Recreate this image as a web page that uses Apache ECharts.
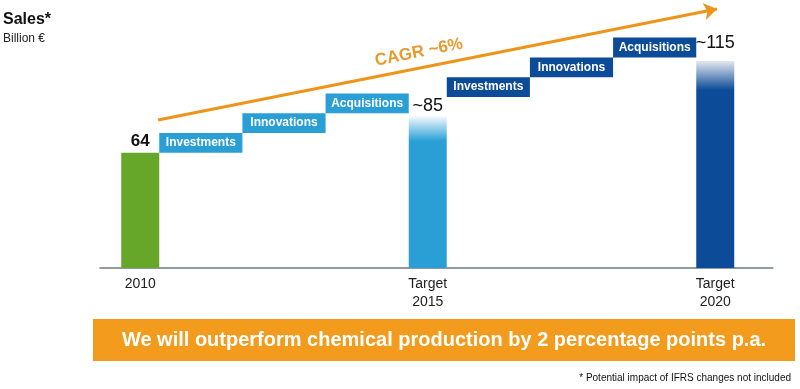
<!DOCTYPE html>
<html>
<head>
<meta charset="utf-8">
<script src="https://cdn.jsdelivr.net/npm/echarts@6/dist/echarts.min.js"></script>
<style>
html,body{margin:0;padding:0;background:#fff;}
#chart{width:800px;height:389px;}
</style>
</head>
<body>
<div id="chart"></div>
<script>
// ---- data ----
const categories = ['2010', 'Target\n2015', 'Target\n2020'];
const years = [2010, 2015, 2020];
const sales = [64, 85, 115];
const salesLabels = ['64', '~85', '~115'];
const stepLabels = ['Investments', 'Innovations', 'Acquisitions'];
const steps2015Base = [64, 75, 86];
const steps2020Base = [95, 106, 117];
const stepHeight = 11;
const cagrStart = [2010.31, 82.2];
const cagrEnd = [2020.03, 143.9];
const cagrText = 'CAGR ~6%';
const bannerText = 'We will outperform chemical production by 2 percentage points p.a.';
const footnote = '* Potential impact of IFRS changes not included';

// ---- style ----
const FONT = '"Liberation Sans", Arial, sans-serif';
const GREEN = '#66A629';
const LBLUE = '#2A9FD6';
const DBLUE = '#0C4B97';
const ORANGE = '#EE9419';
const BAR_W = 38;

const barColors = [
  GREEN,
  {type:'linear', x:0, y:0, x2:0, y2:1, colorStops:[{offset:0,color:'#ffffff'},{offset:0.17,color:LBLUE},{offset:1,color:LBLUE}]},
  {type:'linear', x:0, y:0, x2:0, y2:1, colorStops:[{offset:0,color:'#e4e8ef'},{offset:0.14,color:DBLUE},{offset:1,color:DBLUE}]}
];
const labelStyles = [
  {fontSize:17, fontWeight:'bold', distance:3},
  {fontSize:18, fontWeight:'normal', distance:0},
  {fontSize:18, fontWeight:'normal', distance:9}
];

function stepRender(fromYear, toYear, color) {
  return function(params, api) {
    const i = params.dataIndex;
    const xa = api.coord([fromYear, 0])[0] + BAR_W / 2;
    const xb = api.coord([toYear, 0])[0] - BAR_W / 2;
    const w = (xb - xa) / 3;
    const base = api.value(1);
    const yb = api.coord([fromYear, base])[1];
    const yt = api.coord([fromYear, base + stepHeight])[1];
    return {
      type:'rect',
      shape:{x: xa + i * w, y: yt, width: w, height: yb - yt},
      style:{fill: color},
      textContent:{style:{text: stepLabels[i], fill:'#fff', font:'bold 12px ' + FONT}},
      textConfig:{position:'inside'}
    };
  };
}

const chart = echarts.init(document.getElementById('chart'), null, {renderer:'canvas'});
chart.setOption({
  animation:false,
  textStyle:{fontFamily:FONT},
  title:[
    {text:'Sales*', left:3, top:12, padding:0, textStyle:{fontSize:16, fontWeight:'bold', color:'#111', fontFamily:FONT}},
    {text:'Billion €', left:3, top:33, padding:0, textStyle:{fontSize:12, fontWeight:'normal', color:'#222', fontFamily:FONT}},
    {text:footnote, right:9, top:373, padding:0, textStyle:{fontSize:10, fontWeight:'normal', color:'#111', fontFamily:FONT}}
  ],
  grid:{left:100, right:27.25, top:1.6, bottom:121, containLabel:false},
  xAxis:{
    type:'value', min:2009.3, max:2021,
    splitLine:{show:false},
    axisTick:{show:false},
    axisLine:{show:true, lineStyle:{color:'#6f7b86', width:1.5}},
    axisLabel:{
      customValues: years,
      color:'#222', fontSize:14, lineHeight:18, margin:7, fontFamily:FONT,
      formatter: function(v){ const k = years.indexOf(Math.round(v)); return k >= 0 ? categories[k] : ''; }
    }
  },
  yAxis:{type:'value', min:0, max:148, show:false, splitLine:{show:false}},
  series:[
    {
      type:'bar',
      barWidth:BAR_W,
      silent:true,
      data: years.map((y, i) => ({
        value:[y, sales[i]],
        itemStyle:{color: barColors[i]},
        label:{show:true, position:'top', formatter: salesLabels[i], color:'#111', fontFamily:FONT,
               fontSize:labelStyles[i].fontSize, fontWeight:labelStyles[i].fontWeight, distance:labelStyles[i].distance}
      })),
      markLine:{
        silent:true,
        symbol:['none','arrow'],
        symbolSize:13,
        lineStyle:{color:ORANGE, width:3, type:'solid'},
        label:{show:true, formatter:cagrText, position:'insideMiddleTop', color:'#E89A2E',
               fontSize:17, fontWeight:'bold', fontFamily:FONT, distance:7, padding:[0,32,0,0]},
        data:[[{coord:cagrStart}, {coord:cagrEnd}]]
      }
    },
    {
      type:'custom',
      silent:true,
      renderItem: stepRender(years[0], years[1], LBLUE),
      encode:{x:0, y:1},
      data: steps2015Base.map(b => [years[0], b])
    },
    {
      type:'custom',
      silent:true,
      renderItem: stepRender(years[1], years[2], DBLUE),
      encode:{x:0, y:1},
      data: steps2020Base.map(b => [years[1], b])
    }
  ],
  graphic:[
    {type:'rect', left:93, top:319, shape:{width:702, height:42}, style:{fill:'#F39B1C'}, silent:true},
    {type:'text', x:444, y:340, silent:true,
     style:{text:bannerText, fill:'#fff', font:'bold 20px ' + FONT, textAlign:'center', textVerticalAlign:'middle'}}
  ]
});
</script>
</body>
</html>
